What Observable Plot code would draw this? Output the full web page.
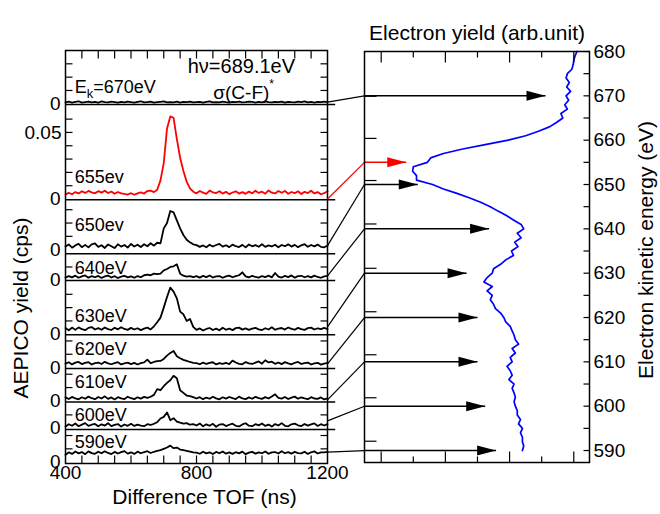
<!DOCTYPE html>
<html><head><meta charset="utf-8">
<script src="https://cdn.jsdelivr.net/npm/d3@7"></script>
<script src="https://cdn.jsdelivr.net/npm/@observablehq/plot@0.6"></script>
<style>
body{margin:0;background:#fff;}
#fig{position:relative;width:660px;height:514px;}
#fig svg{position:absolute;left:0;top:0;}
</style></head><body><div id="fig"></div>
<script>
// ---------- data ----------
const energies    = [670, 655, 650, 640, 630, 620, 610, 600, 590];           // eV, one TOF trace each
const traceLabels = ["Ek=670eV","655ev","650ev","640eV","630eV","620eV","610eV","600eV","590eV"];
const zeroLevels  = [0.270, 0.1985, 0.1605, 0.1375, 0.097, 0.072, 0.047, 0.0265, 0.001]; // stacked zero of each trace (cps)
const separators  = [0.2695, 0.1979, 0.1574, 0.1374, 0.0966, 0.0713, 0.0462, 0.0255];
const labelLevels = [12.6, 16.2, 18.2, 8.8, 13.9, 14.0, 13.7, 9.8, 14.9];       // 1e-3 cps above zero
const connectFrom = [1.3, 0, 3.0, 3.4, 5.5, 2.8, 0.8, 5.5, 7.5];               // 1e-3 cps above zero
const tof = d3.range(400, 1201, 10);                                            // ns

// AEPICO yields, 1e-3 cps, TOF 400..1200 ns step 10
const t670 = [1.0,1.6,0.8,1.4,1.9,0.9,1.3,1.7,1.0,1.5, 0.8,1.8,1.2,1.0,1.6,1.3,0.9,1.5,1.1,1.7, 1.2,0.8,1.4,1.9,1.0,1.3,1.6,0.9,1.2,1.5, 1.8,1.0,1.3,1.1,1.6,0.9,1.4,1.2,1.7,1.0, 1.3,1.5,0.8,1.4,1.8,1.1,1.3,1.0,1.6,1.2, 0.9,1.5,1.3,1.7,1.0,1.2,1.6,1.4,0.9,1.5, 1.1,1.8,1.2,1.0,1.4,1.3,1.7,0.9,1.5,1.2, 1.0,1.6,1.3,1.8,1.1,1.4,0.9,1.5,1.2,1.6,1.3];
const t655 = [3.5,4.6,3.6,5.2,4.2,5.9,4.6,6.1,5.0,4.3, 5.9,4.8,6.2,4.5,5.6,4.0,5.3,4.3,3.8,3.4, 4.4,3.2,4.2,5.0,4.1,6.0,6.4,5.2,7.0, 14,27,53,62,61,45,31,21,13,8.0,5.5, 4.3,6.0,4.8,3.9,6.3,5.1,4.5,5.9,4.1,5.4, 3.7,4.9,5.8,4.1,5.2,3.9,5.6,4.3,6.2,4.6, 5.5,4.0,6.5,4.8,4.2,6.0,4.7,6.1,4.0,5.3, 4.4,5.8,3.8,5.5,4.5,6.2,4.2,5.2,3.6,4.4,5.8];
const t650 = [2.3,3.9,1.5,3.2,4.4,1.9,3.6,1.7,4.0,4.7, 2.1,3.3,1.3,3.9,2.6,1.2,4.1,2.3,3.5,1.6, 4.3,2.4,3.7,2.0,4.1,2.6,4.8,3.0,5.2, 4.7,16,20,29,28,22,16,11,7.5,5.5,4.0, 3.4,2.1,3.2,1.8,3.7,2.4,3.5,4.3,2.3,3.3, 1.9,3.8,2.6,2.0,3.6,1.7,3.9,2.5,3.4,2.2, 4.1,2.1,3.2,2.4,3.7,1.8,3.5,2.6,4.0,2.3, 3.6,1.9,3.3,4.1,2.2,3.5,2.5,3.8,2.1,1.8,3.0];
const t640 = [2.0,3.2,2.2,3.5,1.9,3.0,3.7,2.0,3.1,2.3, 3.3,1.8,2.9,3.6,2.1,3.1,1.7,2.8,3.4,2.2, 3.0,1.9,3.2,2.3,3.8,4.2,3.8,5.0,4.6, 5.0,7.5,8.5,10,10.5,12,5.0,3.5,2.8,3.2,2.4, 3.1,2.0,3.3,2.4,3.6,2.1,3.0,3.2,1.9,2.9, 3.5,2.3,3.1,3.8,6.0,3.0,2.2,3.4,2.5,2.0, 3.2,2.4,3.5,2.2,5.5,2.8,2.1,3.3,2.4,3.7, 2.0,3.1,3.4,2.3,3.2,2.2,3.5,2.5,1.9,3.0,3.4];
const t630 = [4.7,3.0,5.0,3.3,5.2,3.8,3.1,4.8,5.4,3.6, 4.6,3.4,5.1,3.9,3.2,4.9,3.7,5.3,4.0,3.3, 4.8,3.6,4.5,3.1,4.2,5.0,3.6,6.0,9.0, 12.5,20,28,35,32,27,17,15,10,11.5,5.5, 3.3,4.4,2.8,4.0,4.7,3.2,4.2,3.0,4.9,3.4, 4.3,3.1,4.6,5.0,3.5,4.4,3.3,4.2,4.8,3.7, 3.2,4.5,3.6,5.2,3.4,4.3,4.7,3.5,5.1,4.0, 3.4,4.8,3.8,3.3,4.6,5.0,3.6,4.5,3.8,4.8,3.9];
const t620 = [3.0,4.0,2.4,3.7,4.2,2.6,3.5,4.1,2.3,3.3, 3.8,2.7,4.3,3.2,2.5,3.4,4.0,2.4,3.2,3.7, 2.6,3.5,2.3,3.3,3.9,6.0,3.4,4.2,4.8, 5.0,6.5,9.0,11,12.5,8.5,7.0,5.8,5.0,4.2,3.6, 3.3,2.5,3.7,2.7,3.5,4.0,2.4,3.4,2.8,3.6, 2.6,5.2,3.8,2.8,2.5,4.1,3.1,2.7,3.7,4.6, 2.9,5.5,3.9,4.4,2.8,3.8,2.6,4.1,3.1,2.4, 3.6,4.2,2.7,3.4,3.8,2.3,3.2,3.6,2.2,3.0,3.5];
const t610 = [2.6,1.4,3.0,1.8,1.2,2.7,1.6,3.2,2.0,1.3, 2.9,1.8,3.4,1.5,2.6,1.1,2.8,1.9,1.4,3.1, 2.0,1.3,2.7,1.7,3.0,2.3,3.1,4.5,8.8, 8.0,11,13.5,15.5,18.8,17,8.0,6.0,4.0,3.5,2.8, 1.8,2.8,1.3,2.5,1.6,3.1,1.9,1.2,2.7,1.7, 2.9,2.0,1.4,3.2,1.8,1.3,2.6,1.6,3.0,2.1, 1.5,2.8,1.8,3.3,5.0,2.2,1.7,2.9,1.4,2.4, 3.2,1.6,2.7,1.9,1.3,2.8,1.8,1.5,2.6,1.1,1.9];
const t600 = [1.3,3.0,1.8,3.5,1.5,2.7,3.8,1.7,2.6,3.2, 1.4,2.9,2.0,3.7,1.6,2.5,3.1,1.2,2.8,1.8, 3.3,1.7,2.7,2.0,1.5,3.0,2.4,3.3,4.5, 7.3,8.5,11.8,6.0,7.5,5.0,4.2,3.5,3.8,2.6,3.0, 2.0,3.6,1.4,2.9,1.8,3.3,1.1,2.7,3.1,1.6, 2.6,3.4,1.8,1.3,2.8,3.7,1.9,1.5,3.0,2.1, 3.5,1.7,2.7,1.2,3.1,2.0,3.8,1.8,1.4,2.9, 3.4,2.2,1.6,3.2,1.9,2.8,3.6,1.7,3.0,2.0,3.1];
const t590 = [5.5,7.4,6.2,8.0,6.6,7.6,6.0,8.1,6.8,6.3, 7.8,6.7,8.2,6.9,6.1,7.7,6.5,7.5,8.3,6.4, 7.4,6.2,7.9,6.7,7.6,8.2,6.9,7.8,8.5, 9.0,10,11,12.4,10.5,11,9.5,9.0,8.5,8.0,7.4, 7.2,6.3,7.8,6.6,7.4,6.1,7.7,6.7,8.0,6.4, 7.3,6.2,7.5,6.6,7.9,6.0,7.2,7.7,6.4,7.4, 6.7,8.0,6.3,7.3,7.6,6.5,8.2,6.7,7.5,6.4, 7.7,6.8,6.6,7.8,6.2,7.4,8.1,6.5,7.3,7.4,7.8];
const traces = [t670, t655, t650, t640, t630, t620, t610, t600, t590];

// Electron yield spectrum (arb. unit) vs kinetic energy 680..590 eV
const specE = d3.range(680, 589, -1);
const specY = [4.05,4.02,4.00,3.99,3.97,3.90,3.88,3.93,3.89,3.95,
               3.88,3.92,3.86,3.90,3.80,3.83,3.73,3.62,3.45,3.25,
               2.98,2.62,2.27,1.97,1.77,1.72,1.50,1.49,1.55,1.55,
               1.80,1.97,2.18,2.37,2.55,2.70,2.82,2.95,3.06,3.18,
               3.22,3.12,3.18,3.08,3.13,3.03,3.06,2.94,2.86,2.75,
               2.73,2.65,2.60,2.73,2.65,2.73,2.70,2.75,2.78,2.86,
               2.91,2.94,3.01,3.04,3.07,3.09,3.14,3.04,3.09,3.01,
               3.04,2.96,3.01,3.04,2.99,3.07,3.04,3.07,3.09,3.07,
               3.09,3.12,3.12,3.17,3.14,3.20,3.17,3.20,3.20,3.22,
               3.20];
const arrowTips  = [3.56, 1.39, 1.57, 2.68, 2.33, 2.50, 2.50, 2.62, 2.79];   // arb. unit
const innerTickE = [669.9, 660.4, 650.9, 641.1, 631.1, 621.3, 611.6, 601.9, 592.1];
const eTicks = d3.range(590, 681, 10);
const eMinor = d3.range(595, 680, 10);
const yieldMajor = [1, 2, 3, 4];
const yieldMinor = [1.5, 2.5, 3.5];
const tofTicks = d3.range(450, 1200, 50);
const tofLabels = [400, 800, 1200];

// ---------- drawing ----------
const font = "'Liberation Sans', Arial, Helvetica, sans-serif";
const seg = (x1, y1, x2, y2) => ({draw(ctx) { ctx.moveTo(x1, y1); ctx.lineTo(x2, y2); }});
const head = {draw(ctx) { ctx.moveTo(0, 0); ctx.lineTo(-19, -5); ctx.lineTo(-19, 5); ctx.closePath(); }};
const tk = {stroke: "black", fill: "none", strokeWidth: 1.2};

const leftYDomain = [0, 0.31];
const traceRows = traces.flatMap((tr, i) => tr.map((v, j) => ({i, tof: tof[j], y: zeroLevels[i] + v / 1000})));
const yTicks = [];
zeroLevels.forEach((z, i) => {
  const top = i === 0 ? leftYDomain[1] : separators[i - 1];
  for (let k = 1; z + k * 0.01 < top - 0.002; k++) yTicks.push(z + k * 0.01);
});
const labelRows = traceLabels.map((t, i) => ({t, y: zeroLevels[i] + labelLevels[i] / 1000}));

const left = Plot.plot({
  width: 660, height: 514,
  marginLeft: 65, marginRight: 333, marginTop: 50, marginBottom: 51,
  x: {domain: [400, 1200], axis: null},
  y: {domain: leftYDomain, axis: null},
  style: {fontFamily: font, color: "black", background: "none", overflow: "visible"},
  marks: [
    Plot.ruleY(separators, {y: d => d, x1: 400, x2: 1225, stroke: "black", strokeWidth: 1.5}),
    Plot.line(traceRows.filter(d => d.i !== 1), {x: "tof", y: "y", z: "i", stroke: "black", strokeWidth: 1.8}),
    Plot.line(traceRows.filter(d => d.i === 1), {x: "tof", y: "y", stroke: "#ff0000", strokeWidth: 1.8}),
    Plot.dot(yTicks, {y: d => d, frameAnchor: "left", symbol: seg(0, 0, 7, 0), ...tk}),
    Plot.dot(yTicks, {y: d => d, frameAnchor: "right", symbol: seg(0, 0, -7, 0), ...tk}),
    Plot.dot(tofTicks, {x: d => d, frameAnchor: "bottom", symbol: seg(0, 0, 0, -8), ...tk}),
    Plot.dot(tofTicks, {x: d => d, frameAnchor: "top", symbol: seg(0, 0, 0, 8), ...tk}),
    Plot.frame({stroke: "black", strokeWidth: 1.5}),
    Plot.text(zeroLevels, {y: d => d, text: () => "0", frameAnchor: "left", textAnchor: "end", dx: -5, fontSize: 19}),
    Plot.text([zeroLevels[1] + 0.05], {y: d => d, text: () => "0.05", frameAnchor: "left", textAnchor: "end", dx: -4, fontSize: 19}),
    Plot.text(tofLabels, {x: d => d, text: d => String(d), frameAnchor: "bottom", textAnchor: "middle", dy: 15, fontSize: 19}),
    Plot.text(labelRows, {x: 428, y: "y", text: "t", textAnchor: "start", fontSize: 18}),
    Plot.text(["hν=689.1eV"], {x: 937, y: 0.298, text: d => d, fontSize: 20}),
    Plot.text(["σ(C-F)*"], {x: 944, y: 0.2780, text: d => d, fontSize: 19}),
    Plot.text(["Difference TOF (ns)"], {frameAnchor: "bottom", textAnchor: "middle", dx: 8, dy: 40, text: d => d, fontSize: 21}),
    Plot.text(["AEPICO yield (cps)"], {frameAnchor: "left", textAnchor: "middle", dx: -44, dy: 51, rotate: -90, text: d => d, fontSize: 21})
  ]
});

// rich text (sub/superscripts)
d3.select(left).selectAll("text").each(function() {
  const s = d3.select(this);
  if (this.textContent === "Ek=670eV") {
    s.text("");
    s.append("tspan").text("E");
    s.append("tspan").attr("dy", 5).attr("font-size", 13).text("k");
    s.append("tspan").attr("dy", -5).text("=670eV");
  } else if (this.textContent === "σ(C-F)*") {
    s.text("");
    s.append("tspan").text("σ(C-F)");
    s.append("tspan").attr("dy", -11).attr("font-size", 12).text("*");
  }
});

const lxs = left.scale("x"), lys = left.scale("y");
const rx = d3.scaleLinear([0.74, 4.245], [364, 589]);
const ry = d3.scaleLinear([587.3, 680], [462, 51]);
const xEdge = rx.domain()[0];
const xStart = rx.invert(lxs.apply(1200));
const conn = energies.map((e, i) => ({
  e, tip: arrowTips[i], red: i === 1,
  x1: xStart, y1: ry.invert(lys.apply(zeroLevels[i] + connectFrom[i] / 1000))
}));
const spec = specE.map((e, i) => ({e, v: specY[i]}));

const right = Plot.plot({
  width: 660, height: 514,
  marginLeft: 364, marginRight: 71, marginTop: 51, marginBottom: 52,
  x: {domain: rx.domain(), axis: null},
  y: {domain: ry.domain(), axis: null},
  style: {fontFamily: font, color: "black", background: "none", overflow: "visible"},
  marks: [
    Plot.line(spec, {x: "v", y: "e", stroke: "#0000ff", strokeWidth: 1.7}),
    Plot.link(conn.filter(d => !d.red), {x1: "x1", y1: "y1", x2: xEdge, y2: "e", stroke: "black", strokeWidth: 1.2}),
    Plot.link(conn.filter(d => d.red), {x1: "x1", y1: "y1", x2: xEdge, y2: "e", stroke: "#ff0000", strokeWidth: 1.2}),
    Plot.link(conn.filter(d => !d.red), {x1: xEdge, x2: "tip", y1: "e", y2: "e", stroke: "black", strokeWidth: 1.5}),
    Plot.link(conn.filter(d => d.red), {x1: xEdge, x2: "tip", y1: "e", y2: "e", stroke: "#ff0000", strokeWidth: 1.5}),
    Plot.dot(conn.filter(d => !d.red), {x: "tip", y: "e", symbol: head, fill: "black", stroke: "none"}),
    Plot.dot(conn.filter(d => d.red), {x: "tip", y: "e", symbol: head, fill: "#ff0000", stroke: "none"}),
    Plot.dot(innerTickE, {y: d => d, frameAnchor: "left", symbol: seg(0, 0, 12, 0), ...tk}),
    Plot.dot(eTicks.concat(eMinor), {y: d => d, frameAnchor: "right", symbol: seg(0, 0, -6, 0), ...tk}),
    Plot.dot(yieldMajor, {x: d => d, frameAnchor: "top", symbol: seg(0, 0, 0, 11), ...tk}),
    Plot.dot(yieldMajor, {x: d => d, frameAnchor: "bottom", symbol: seg(0, 0, 0, -11), ...tk}),
    Plot.dot(yieldMinor, {x: d => d, frameAnchor: "top", symbol: seg(0, 0, 0, 6), ...tk}),
    Plot.dot(yieldMinor, {x: d => d, frameAnchor: "bottom", symbol: seg(0, 0, 0, -6), ...tk}),
    Plot.frame({stroke: "black", strokeWidth: 1.5}),
    Plot.text(eTicks, {y: d => d, text: d => String(d), frameAnchor: "right", textAnchor: "start", dx: 4, fontSize: 19}),
    Plot.text(["Electron yield (arb.unit)"], {frameAnchor: "top", textAnchor: "middle", dy: -26, text: d => d, fontSize: 21}),
    Plot.text(["Electron kinetic energy (eV)"], {frameAnchor: "right", textAnchor: "middle", dx: 57, dy: -7, rotate: -90, text: d => d, fontSize: 21})
  ]
});

const fig = document.getElementById("fig");
fig.appendChild(left);
fig.appendChild(right);
</script>
</body></html>
